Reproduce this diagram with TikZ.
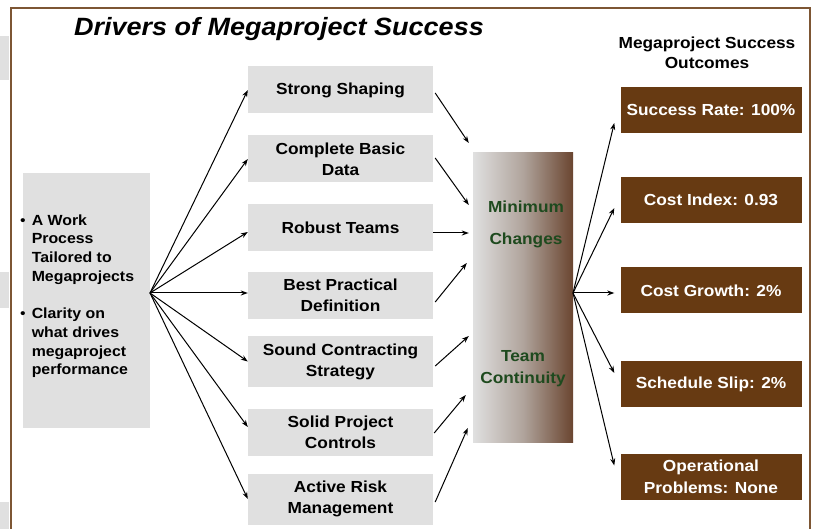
\documentclass[tikz,border=0pt]{standalone}
\usepackage{fontspec}
\setmainfont{Liberation Sans}[FakeStretch=1.08]
\usetikzlibrary{arrows.meta,calc}
\definecolor{framebrown}{HTML}{7D5634}
\definecolor{outbrown}{HTML}{673A12}
\definecolor{boxgray}{HTML}{E0E0E0}
\definecolor{gradmid}{HTML}{B0A49C}
\definecolor{gradbrown}{HTML}{6A4530}
\definecolor{darkgreen}{HTML}{1E4A1E}

\begin{document}
\begin{tikzpicture}[x=1pt,y=-1pt,
    driver/.style={fill=boxgray,minimum width=185pt,minimum height=47pt,align=center,
      inner sep=0pt,font=\fontsize{16}{21}\selectfont\bfseries},
    outcome/.style={fill=outbrown,text=white,minimum width=181pt,minimum height=46pt,
      align=center,inner sep=0pt,font=\fontsize{16}{22}\selectfont\bfseries},
    link/.style={-{Stealth[length=7pt,width=5pt]},line width=1pt}]
      \useasboundingbox (0,0) rectangle (814,529);
      \clip (0,0) rectangle (814,529);
      \fill[white] (0,0) rectangle (814,529);
      \fill[boxgray] (0,36) rectangle (9,80);
      \fill[boxgray] (0,272) rectangle (9,308);
      \fill[boxgray] (0,502) rectangle (9,529);
      \draw[framebrown,line width=2pt] (11,8) rectangle (810,545);

      \node[font=\fontsize{25}{30}\selectfont\bfseries\itshape] (title) at (279,29)
      {Drivers of Megaproject Success};
      \node[align=center,font=\fontsize{16}{20}\selectfont\bfseries] (outhead) at (707,53)
      {Megaproject Success\\Outcomes};

      \node[fill=boxgray,minimum width=127pt,minimum height=255pt,inner sep=0pt] (work)
      at (86.5,300.5) {};
      \node[anchor=north west,inner sep=0pt,font=\fontsize{14.7}{18.7}\selectfont\bfseries]
      (worktext) at (20,212) {\begin{tabular}{@{}l@{\hspace{6pt}}l@{}}
          {\mdseries\textbullet} & A Work\\
          & Process\\
          & Tailored to\\
          & Megaprojects\\[18.7pt]
          {\mdseries\textbullet} & Clarity on\\
          & what drives\\
          & megaproject\\
          & performance
        \end{tabular}};

      \node[driver] (shaping) at (340.5,90) {Strong Shaping};
      \node[driver] (basic) at (340.5,159) {Complete Basic\\Data};
      \node[driver] (robust) at (340.5,228) {Robust Teams};
      \node[driver] (bestdef) at (340.5,295.5) {Best Practical\\Definition};
      \node[driver,minimum height=51pt] (contract) at (340.5,361.5) {Sound Contracting\\Strategy};
      \node[driver] (controls) at (340.5,432) {Solid Project\\Controls};
      \node[driver,minimum height=51pt] (risk) at (340.5,499) {Active Risk\\Management};

      \node[minimum width=100pt,minimum height=289pt,inner sep=0pt,left color=boxgray,
        right color=gradbrown,middle color=gradmid] (continuity) at (523,297.5) {};
      \node[text=darkgreen,align=center,font=\fontsize{16}{32}\selectfont\bfseries]
      (minchg) at (526,224) {Minimum\\Changes};
      \node[text=darkgreen,align=center,font=\fontsize{16}{22}\selectfont\bfseries]
      (team) at (523,369) {Team\\Continuity};

      \node[outcome] (rate) at (711,110) {Success Rate: 100\%};
      \node[outcome] (index) at (711,200) {Cost Index: 0.93};
      \node[outcome] (growth) at (711,290.5) {Cost Growth: 2\%};
      \node[outcome] (slip) at (711,384) {Schedule Slip: 2\%};
      \node[outcome] (problems) at (711,476.5) {Operational\\Problems: None};

      \coordinate (fan) at (150,293);
      \coordinate (spread) at (573,293);

      \draw[link] (fan) -- (shaping.west);
      \draw[link] (fan) -- (basic.west);
      \draw[link] (fan) -- ($(robust.west)+(0,4)$);
      \draw[link] (fan) -- (bestdef.west |- fan);
      \draw[link] (fan) -- (contract.west);
      \draw[link] (fan) -- ($(controls.west)+(0,-5)$);
      \draw[link] (fan) -- (risk.west);

      \draw[link] ($(shaping.east)+(2,3)$) -- ($(continuity.west)+(-4,-154.5)$);
      \draw[link] ($(basic.east)+(2,-1)$) -- ($(continuity.west)+(-4,-92.5)$);
      \draw[link] ($(robust.east)+(0,5)$) -- ($(continuity.west)+(-4,-64.5)$);
      \draw[link] ($(bestdef.east)+(2,6.5)$) -- ($(continuity.west)+(-6,-34.5)$);
      \draw[link] ($(contract.east)+(2,4.5)$) -- ($(continuity.west)+(-4,38.5)$);
      \draw[link] ($(controls.east)+(1,1)$) -- ($(continuity.west)+(-7,97.5)$);
      \draw[link] ($(risk.east)+(2,3)$) -- ($(continuity.west)+(-5,130.5)$);

      \draw[link] (spread) -- ($(rate.west)+(-6,13)$);
      \draw[link] (spread) -- ($(index.west)+(-6,8)$);
      \draw[link] (spread) -- ($(growth.west |- spread)+(-6,0)$);
      \draw[link] (spread) -- ($(slip.west)+(-6,-11)$);
      \draw[link] (spread) -- ($(problems.west)+(-6,-11)$);
    \end{tikzpicture}
\end{document}
